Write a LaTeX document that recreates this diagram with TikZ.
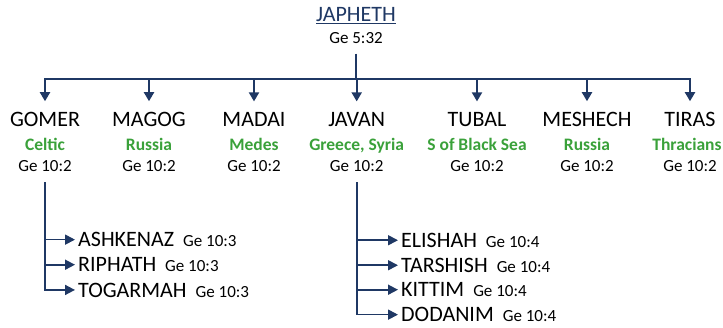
\documentclass[tikz,border=0pt]{standalone}
\usepackage{fontspec}
\setmainfont{Carlito}
\usetikzlibrary{arrows.meta,positioning}
\definecolor{navy}{HTML}{1F3864}
\definecolor{tribegreen}{HTML}{3AA13A}
\def\namefont{\fontsize{22}{24}\selectfont}
\def\reffont{\fontsize{17}{19}\selectfont}
\def\tribefont{\fontsize{17.5}{19}\selectfont\bfseries}

\begin{document}
\begin{tikzpicture}[x=1pt,y=-1pt,every node/.style={inner sep=3pt},
  famname/.style={anchor=base,font=\namefont},
  people/.style={anchor=base,font=\tribefont,text=tribegreen},
  verse/.style={anchor=base,font=\reffont},
  grandson/.style={anchor=base west,font=\namefont},
  link/.style={draw=navy,line width=2pt},
  arr/.style={link,-{Triangle[length=9pt,width=10pt]},shorten >=8pt},
  sublink/.style={draw=navy,line width=1.7pt},
  subarr/.style={sublink,-{Triangle[length=10pt,width=10pt]}}]
\useasboundingbox (0,0) rectangle (723,327);

\node[famname,text=navy] (japheth) at (356,21.7) {\underline{JAPHETH}};
\node[verse] (jref) at (356,43.3) {Ge 5:32};

% sons
\node[famname] (gomer) at (45,126.7) {GOMER};
\node[people] (gomerpp) at (45,150) {Celtic};
\node[verse] (gomerref) at (45,171.7) {Ge 10:2};

\node[famname] (magog) at (149,126.7) {MAGOG};
\node[people] (magogpp) at (149,150) {Russia};
\node[verse] (magogref) at (149,171.7) {Ge 10:2};

\node[famname] (madai) at (254,126.7) {MADAI};
\node[people] (madaipp) at (254,150) {Medes};
\node[verse] (madairef) at (254,171.7) {Ge 10:2};

\node[famname] (javan) at (356.7,126.7) {JAVAN};
\node[people] (javanpp) at (356.7,150) {Greece, Syria};
\node[verse] (javanref) at (356.7,171.7) {Ge 10:2};

\node[famname] (tubal) at (477,126.7) {TUBAL};
\node[people] (tubalpp) at (477,150) {S of Black Sea};
\node[verse] (tubalref) at (477,171.7) {Ge 10:2};

\node[famname] (meshech) at (587,126.7) {MESHECH};
\node[people] (meshechpp) at (587,150) {Russia};
\node[verse] (meshechref) at (587,171.7) {Ge 10:2};

\node[famname] (tiras) at (690,126.7) {TIRAS};
\node[people] (tiraspp) at (687,150) {Thracians};
\node[verse] (tirasref) at (690,171.7) {Ge 10:2};

% grandsons
\node[grandson] (ashkenaz) at (75,246.7) {ASHKENAZ\hskip9pt{\reffont Ge 10:3}};
\node[grandson] (riphath) at (75,271.7) {RIPHATH\hskip9pt{\reffont Ge 10:3}};
\node[grandson] (togarmah) at (75,297) {TOGARMAH\hskip9pt{\reffont Ge 10:3}};

\node[grandson] (elishah) at (398,247.3) {ELISHAH\hskip9pt{\reffont Ge 10:4}};
\node[grandson] (tarshish) at (398,272.3) {TARSHISH\hskip9pt{\reffont Ge 10:4}};
\node[grandson] (kittim) at (398,296.7) {KITTIM\hskip9pt{\reffont Ge 10:4}};
\node[grandson] (dodanim) at (398,321.7) {DODANIM\hskip9pt{\reffont Ge 10:4}};

% lines
\coordinate (bar) at (356.7,79);
\draw[link,shorten <=7pt] (jref.south) -- (jref.south |- bar);
\draw[arr] (bar) -| (gomer.north);
\draw[arr] (bar) -| (tiras.north);
\draw[arr] (bar -| magog) -- (magog.north);
\draw[arr] (bar -| madai) -- (madai.north);
\draw[arr] (bar) -- (javan.north);
\draw[arr] (bar -| tubal) -- (tubal.north);
\draw[arr] (bar -| meshech) -- (meshech.north);

\draw[subarr,shorten <=7pt] (gomerref.south) |- (togarmah.west);
\draw[subarr] (ashkenaz.west -| gomerref) -- (ashkenaz.west);
\draw[subarr] (riphath.west -| gomerref) -- (riphath.west);

\draw[subarr,shorten <=7pt] (javanref.south) |- (dodanim.west);
\draw[subarr] (elishah.west -| javanref) -- (elishah.west);
\draw[subarr] (tarshish.west -| javanref) -- (tarshish.west);
\draw[subarr] (kittim.west -| javanref) -- (kittim.west);
\end{tikzpicture}
\end{document}
